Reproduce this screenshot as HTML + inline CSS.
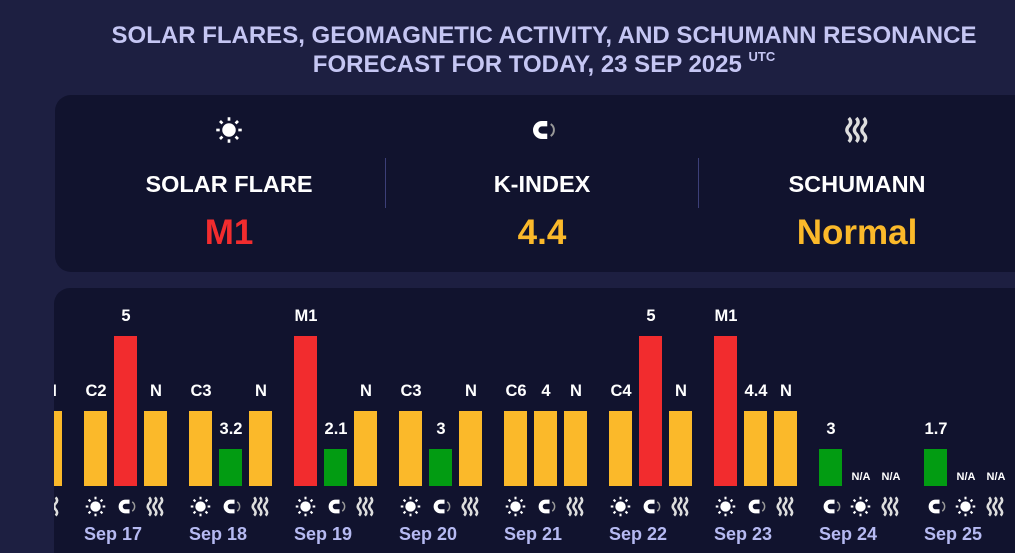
<!DOCTYPE html>
<html><head><meta charset="utf-8"><style>
html,body{margin:0;width:1015px;height:553px;overflow:hidden}
body{background:#1d1f41;font-family:"Liberation Sans",Arial,sans-serif;position:relative}
.title{position:absolute;left:90px;width:908px;top:21px;text-align:center;color:#c5c6f3;font-weight:bold;font-size:24px;line-height:29px}
.title sup{font-size:13px;vertical-align:top;line-height:14px}
.card{position:absolute;background:#11132e;border-radius:16px;overflow:hidden}
.col{position:absolute;top:0;width:312px;text-align:center}
.lab{position:absolute;top:171px;width:100%;color:#fff;font-weight:bold;font-size:23.5px}
.val{position:absolute;top:213px;width:100%;font-weight:bold;font-size:35px}
.tic{position:absolute;top:115px;left:141px;width:30px;height:30px}
.div{position:absolute;top:158px;width:1px;height:50px;background:#3c3f78}
.bar{position:absolute;width:23px}
.bl{position:absolute;width:60px;text-align:center;color:#fff;font-weight:bold;font-size:16.5px}
.na{font-size:11px}
.ic{position:absolute;width:23px;height:23px}
.ic svg,.tic svg{display:block}
.dt{position:absolute;color:#b6baf2;font-weight:bold;font-size:18px;width:90px}
</style></head><body>
<div class="title">SOLAR FLARES, GEOMAGNETIC ACTIVITY, AND SCHUMANN RESONANCE<br>FORECAST FOR TODAY, 23 SEP 2025 <sup>UTC</sup></div>
<div class="card" style="left:55px;top:95px;width:990px;height:177px"></div>
<div class="div" style="left:385px"></div><div class="div" style="left:698px"></div>
<div class="col" style="left:73px"><div class="tic" id="t1"></div><div class="lab">SOLAR FLARE</div><div class="val" style="color:#f22c2e">M1</div></div>
<div class="col" style="left:386px"><div class="tic" id="t2"></div><div class="lab">K-INDEX</div><div class="val" style="color:#fbb92a">4.4</div></div>
<div class="col" style="left:701px"><div class="tic" id="t3"></div><div class="lab">SCHUMANN</div><div class="val" style="color:#fbb92a">Normal</div></div>
<div class="card" id="c2" style="left:54px;top:288px;width:990px;height:290px"></div>
<script>
const Y='#fbb92a',R='#f22c2e',G='#029c12';
const sun='<svg viewBox="0 0 20 20" width="100%" height="100%"><circle cx="10" cy="10" r="4.5" fill="#fff"/><g stroke="#fff" stroke-width="1.8">'+[0,45,90,135,180,225,270,315].map(a=>`<line x1="10" y1="1.5" x2="10" y2="3.8" transform="rotate(${a} 10 10)"/>`).join('')+'</g></svg>';
const mag='<svg viewBox="0 0 20 20" width="100%" height="100%"><path d="M13.5 5.8 H10 A4.2 4.2 0 0 0 10 14.2 H13.5" stroke="#fff" stroke-width="3.6" fill="none"/><path d="M15.8 6 A4.8 4.8 0 0 1 15.8 14" stroke="#999" stroke-width="1.3" fill="none"/></svg>';
const wav='<svg viewBox="0 0 20 20" width="100%" height="100%"><g stroke="#ddd" stroke-width="2.2" fill="none">'+[4.5,9.5,14.5].map(x=>`<path d="M${x} 2 q2.5 2.7 0 5.3 q-2.5 2.7 0 5.3 q2.5 2.7 0 5.3"/>`).join('')+'</g></svg>';
document.getElementById('t1').innerHTML=sun;document.getElementById('t2').innerHTML=mag;document.getElementById('t3').innerHTML=wav;
const H={t:150,m:75,s:37};
const days=[
['Sep 16',[['N',Y,'m',sun],['',Y,'m',mag],['N',Y,'m',wav]]],
['Sep 17',[['C2',Y,'m',sun],['5',R,'t',mag],['N',Y,'m',wav]]],
['Sep 18',[['C3',Y,'m',sun],['3.2',G,'s',mag],['N',Y,'m',wav]]],
['Sep 19',[['M1',R,'t',sun],['2.1',G,'s',mag],['N',Y,'m',wav]]],
['Sep 20',[['C3',Y,'m',sun],['3',G,'s',mag],['N',Y,'m',wav]]],
['Sep 21',[['C6',Y,'m',sun],['4',Y,'m',mag],['N',Y,'m',wav]]],
['Sep 22',[['C4',Y,'m',sun],['5',R,'t',mag],['N',Y,'m',wav]]],
['Sep 23',[['M1',R,'t',sun],['4.4',Y,'m',mag],['N',Y,'m',wav]]],
['Sep 24',[['3',G,'s',mag],['N/A',null,0,sun],['N/A',null,0,wav]]],
['Sep 25',[['1.7',G,'s',mag],['N/A',null,0,sun],['N/A',null,0,wav]]]];
let h='';
days.forEach((d,i)=>{const gx=(i==0?-21:84+(i-1)*105)-54;
 d[1].forEach((b,j)=>{const x=gx+j*30;const bottom=486-288;
  if(b[1]){const ht=H[b[2]];h+=`<div class="bar" style="left:${x}px;top:${bottom-ht}px;height:${ht}px;background:${b[1]}"></div>`;
   h+=`<div class="bl" style="left:${x-18}px;top:${bottom-ht-29}px">${b[0]}</div>`;}
  else h+=`<div class="bl na" style="left:${x-18}px;top:${bottom-15}px">${b[0]}</div>`;
  h+=`<div class="ic" style="left:${x}px;top:${506-288-11.5}px">${b[3]}</div>`;});
 h+=`<div class="dt" style="left:${gx}px;top:${534-288-10}px">${d[0]}</div>`;});
document.getElementById('c2').innerHTML=h;
</script>
</body></html>
